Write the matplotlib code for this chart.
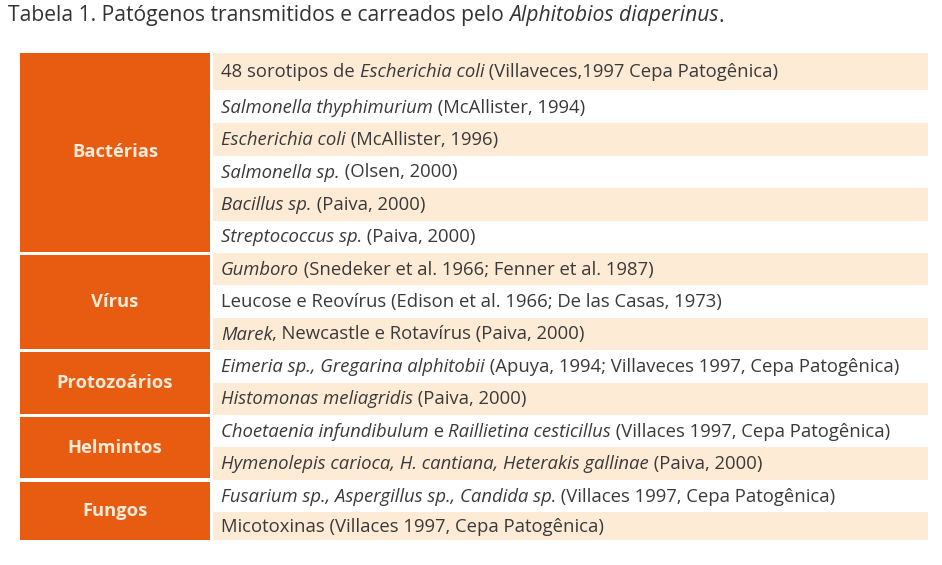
import matplotlib
matplotlib.use("Agg")
import matplotlib.pyplot as plt
from matplotlib.patches import Rectangle

plt.rcParams['font.family'] = ['Open Sans', 'DejaVu Sans']

title = [("Tabela 1. Patógenos transmitidos e carreados pelo ", False), ("Alphitobios diaperinus", True), (".", False)]
groups = ["Bactérias", "Vírus", "Protozoários", "Helmintos", "Fungos"]
group_sizes = [6, 3, 2, 2, 2]
rows = [
    [("48 sorotipos de ", False), ("Escherichia coli", True), (" (Villaveces,1997 Cepa Patogênica)", False)],
    [("Salmonella thyphimurium", True), (" (McAllister, 1994)", False)],
    [("Escherichia coli", True), (" (McAllister, 1996)", False)],
    [("Salmonella sp.", True), (" (Olsen, 2000)", False)],
    [("Bacillus sp.", True), (" (Paiva, 2000)", False)],
    [("Streptococcus sp.", True), (" (Paiva, 2000)", False)],
    [("Gumboro", True), (" (Snedeker et al. 1966; Fenner et al. 1987)", False)],
    [("Leucose e Reovírus (Edison et al. 1966; De las Casas, 1973)", False)],
    [("Marek", True), (", Newcastle e Rotavírus (Paiva, 2000)", False)],
    [("Eimeria sp., Gregarina alphitobii", True), (" (Apuya, 1994; Villaveces 1997, Cepa Patogênica)", False)],
    [("Histomonas meliagridis", True), (" (Paiva, 2000)", False)],
    [("Choetaenia infundibulum", True), (" e ", False), ("Raillietina cesticillus", True), (" (Villaces 1997, Cepa Patogênica)", False)],
    [("Hymenolepis carioca, H. cantiana, Heterakis gallinae", True), (" (Paiva, 2000)", False)],
    [("Fusarium sp., Aspergillus sp., Candida sp.", True), (" (Villaces 1997, Cepa Patogênica)", False)],
    [("Micotoxinas (Villaces 1997, Cepa Patogênica)", False)],
]

ORANGE = "#E85C12"
LIGHT = "#FDEBD6"
TEXT = "#3a3a3a"

W, H = 942, 565
fig = plt.figure(figsize=(W / 100, H / 100), dpi=100)
ax = fig.add_axes([0, 0, 1, 1])
ax.set_xlim(0, W)
ax.set_ylim(H, 0)
ax.axis("off")
renderer = fig.canvas.get_renderer()

def draw_segments(x, y, segs, size, color):
    for txt, it in segs:
        t = ax.text(x, y, txt, fontsize=size, color=color, va="center", ha="left",
                    style="italic" if it else "normal")
        bb = t.get_window_extent(renderer=renderer)
        x += bb.width

draw_segments(8, 16, title, 15.2, "#333333")

row_top = [53] + [91 + 32.4 * i for i in range(len(rows) - 1)]
row_bot = [90] + [91 + 32.4 * (i + 1) for i in range(len(rows) - 1)]
row_bot[-1] = 540
for i, segs in enumerate(rows):
    top, bot = row_top[i], row_bot[i]
    if i % 2 == 0:
        ax.add_patch(Rectangle((213, top), 715, bot - top, color=LIGHT, lw=0))
    draw_segments(221, (top + bot) / 2 + 0.5, segs, 13.3, TEXT)

start = 0
for g, n in zip(groups, group_sizes):
    top = row_top[start] + (0 if start == 0 else 2)
    bot = row_bot[start + n - 1] - (0 if start + n == len(rows) else 1.5)
    ax.add_patch(Rectangle((20, top), 190, bot - top, color=ORANGE, lw=0))
    ax.text(115, (top + bot) / 2, g, fontsize=13.2, color="#FCEBD8", weight="bold",
            ha="center", va="center")
    start += n

fig.savefig("out.png", dpi=100)
